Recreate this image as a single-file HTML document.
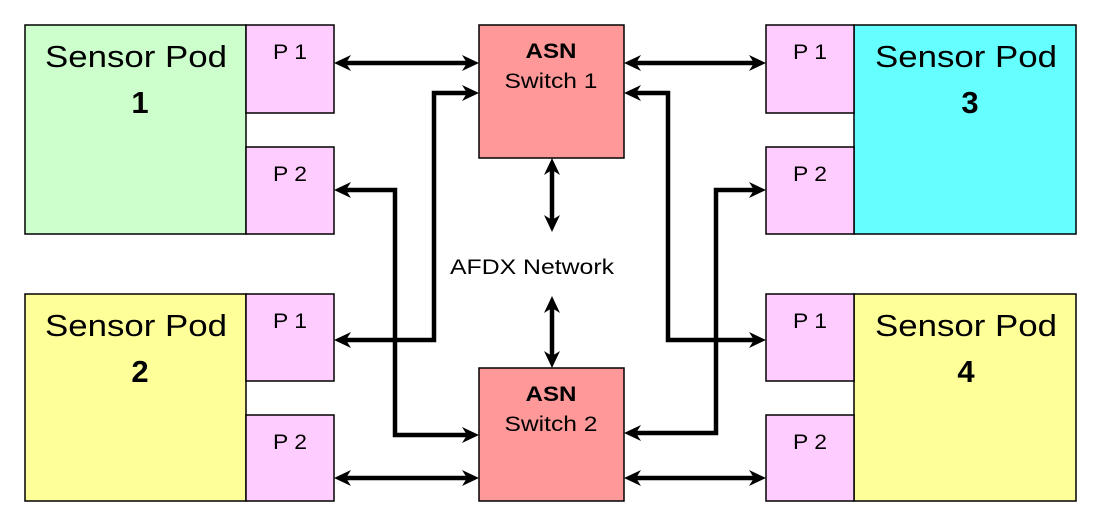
<!DOCTYPE html>
<html><head><style>
body{margin:0;background:#fff;}
svg{display:block;font-family:"Liberation Sans",sans-serif;}
</style></head><body>
<svg width="1102" height="524" viewBox="0 0 1102 524">
<defs>
<path id="h" d="M0,0 L-17,-8 L-12,0 L-17,8 Z" fill="#000"/>
</defs>
<g stroke="#000" stroke-width="1.5">
<rect x="25" y="25" width="221" height="209" fill="#ccffcc"/>
<rect x="246" y="25" width="88" height="88" fill="#ffccff"/>
<rect x="246" y="147" width="88" height="87" fill="#ffccff"/>
<rect x="25" y="294" width="221" height="207" fill="#ffff99"/>
<rect x="246" y="294" width="88" height="87" fill="#ffccff"/>
<rect x="246" y="415" width="88" height="86" fill="#ffccff"/>
<rect x="854" y="25" width="222" height="209" fill="#66ffff"/>
<rect x="766" y="25" width="88" height="88" fill="#ffccff"/>
<rect x="766" y="147" width="88" height="87" fill="#ffccff"/>
<rect x="854" y="294" width="222" height="207" fill="#ffff99"/>
<rect x="766" y="294" width="88" height="87" fill="#ffccff"/>
<rect x="766" y="415" width="88" height="86" fill="#ffccff"/>
<rect x="479" y="25" width="145" height="133" fill="#ff9999"/>
<rect x="479" y="368" width="145" height="133" fill="#ff9999"/>
</g>
<g stroke="#000" stroke-width="4.5" fill="none">
<path d="M340,63 H473"/>
<path d="M340,340 H434 V93 H473"/>
<path d="M340,190 H395 V435 H473"/>
<path d="M340,478 H473"/>
<path d="M630,63 H760"/>
<path d="M760,340 H668 V93 H630"/>
<path d="M760,190 H716 V433 H630"/>
<path d="M630,478 H760"/>
<path d="M552,164 V226"/>
<path d="M552,302 V362"/>
</g>
<g>
<use href="#h" transform="translate(334,63) rotate(180)"/>
<use href="#h" transform="translate(479,63)"/>
<use href="#h" transform="translate(334,340) rotate(180)"/>
<use href="#h" transform="translate(479,93)"/>
<use href="#h" transform="translate(334,190) rotate(180)"/>
<use href="#h" transform="translate(479,435)"/>
<use href="#h" transform="translate(334,478) rotate(180)"/>
<use href="#h" transform="translate(479,478)"/>
<use href="#h" transform="translate(624,63) rotate(180)"/>
<use href="#h" transform="translate(766,63)"/>
<use href="#h" transform="translate(766,340)"/>
<use href="#h" transform="translate(624,93) rotate(180)"/>
<use href="#h" transform="translate(766,190)"/>
<use href="#h" transform="translate(624,433) rotate(180)"/>
<use href="#h" transform="translate(624,478) rotate(180)"/>
<use href="#h" transform="translate(766,478)"/>
<use href="#h" transform="translate(552,158) rotate(-90)"/>
<use href="#h" transform="translate(552,232) rotate(90)"/>
<use href="#h" transform="translate(552,296) rotate(-90)"/>
<use href="#h" transform="translate(552,368) rotate(90)"/>
</g>
<g fill="#000" text-anchor="middle">
<text x="136" y="67" font-size="31" textLength="182" lengthAdjust="spacingAndGlyphs">Sensor Pod</text>
<text x="140" y="113" font-size="31" font-weight="bold">1</text>
<text x="136" y="336" font-size="31" textLength="182" lengthAdjust="spacingAndGlyphs">Sensor Pod</text>
<text x="140" y="382" font-size="31" font-weight="bold">2</text>
<text x="966" y="67" font-size="31" textLength="182" lengthAdjust="spacingAndGlyphs">Sensor Pod</text>
<text x="970" y="113" font-size="31" font-weight="bold">3</text>
<text x="966" y="336" font-size="31" textLength="182" lengthAdjust="spacingAndGlyphs">Sensor Pod</text>
<text x="966" y="382" font-size="31" font-weight="bold">4</text>
<g font-size="21">
<text x="290" y="59" textLength="34" lengthAdjust="spacingAndGlyphs">P 1</text><text x="290" y="181" textLength="34" lengthAdjust="spacingAndGlyphs">P 2</text>
<text x="290" y="328" textLength="34" lengthAdjust="spacingAndGlyphs">P 1</text><text x="290" y="449" textLength="34" lengthAdjust="spacingAndGlyphs">P 2</text>
<text x="810" y="59" textLength="34" lengthAdjust="spacingAndGlyphs">P 1</text><text x="810" y="181" textLength="34" lengthAdjust="spacingAndGlyphs">P 2</text>
<text x="810" y="328" textLength="34" lengthAdjust="spacingAndGlyphs">P 1</text><text x="810" y="449" textLength="34" lengthAdjust="spacingAndGlyphs">P 2</text>
<text x="551" y="58" font-weight="bold" textLength="51" lengthAdjust="spacingAndGlyphs">ASN</text>
<text x="551" y="88" textLength="93" lengthAdjust="spacingAndGlyphs">Switch 1</text>
<text x="551" y="401" font-weight="bold" textLength="51" lengthAdjust="spacingAndGlyphs">ASN</text>
<text x="551" y="431" textLength="93" lengthAdjust="spacingAndGlyphs">Switch 2</text>
<text x="532" y="274" textLength="164" lengthAdjust="spacingAndGlyphs">AFDX Network</text>
</g>
</g>
</svg>
</body></html>
